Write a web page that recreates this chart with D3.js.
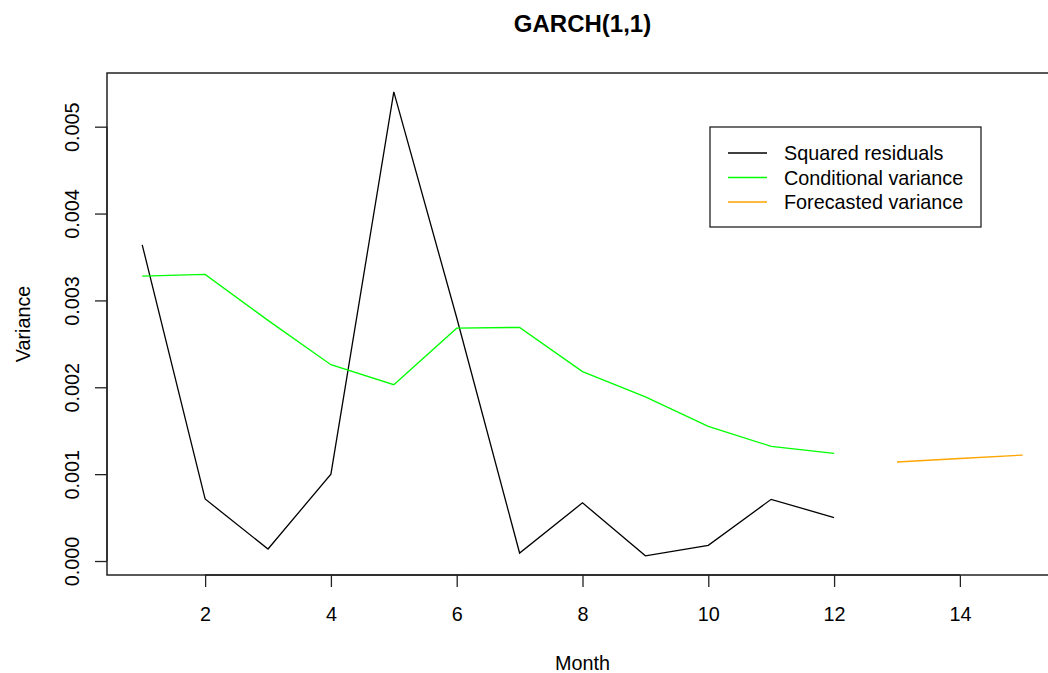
<!DOCTYPE html>
<html lang="en">
<head>
    <meta charset="UTF-8">
    <title>GARCH(1,1)</title>
    <style>
        body { margin: 0; padding: 0; background: #fff; }
        svg { display: block; }
        text { font-family: "Liberation Sans", Arial, sans-serif; fill: #000; }
    </style>
</head>
<body>
    <script src="https://d3js.org/d3.v7.min.js"></script>
    <script>
        // data
        const months = [1, 2, 3, 4, 5, 6, 7, 8, 9, 10, 11, 12];
        const squaredResiduals = [0.00364, 0.000714, 0.000138, 0.001, 0.0054, 0.0028,
            0.000092, 0.00067, 0.00006, 0.00018, 0.00071, 0.0005];
        const conditionalVariance = [0.00328, 0.0033, 0.00277, 0.00226, 0.00203, 0.00268,
            0.00269, 0.00218, 0.00189, 0.00155, 0.00132, 0.00124];
        const forecastMonths = [13, 14, 15];
        const forecastedVariance = [0.00114, 0.00118, 0.00122];
        const xTicks = [2, 4, 6, 8, 10, 12, 14];
        const yTicks = [0, 0.001, 0.002, 0.003, 0.004, 0.005];
        const legendLabels = ['Squared residuals', 'Conditional variance', 'Forecasted variance'];
        const legendColors = ['#000000', '#00ff00', '#ffa500'];

        const width = 1048, height = 673;
        const plot = { left: 107, top: 73, bottom: 575, right: 1058 };

        const svg = d3.select('body').append('svg')
            .attr('width', width)
            .attr('height', height);

        // R style: axis range padded by 4%
        const x = d3.scaleLinear().domain([0.44, 15.56]).range([plot.left, plot.right]);
        const y = d3.scaleLinear().domain([-0.000161, 0.005618]).range([plot.bottom, plot.top]);

        const fs = 19.8;

        // lines
        const line = d3.line().x(d => x(d[0])).y(d => y(d[1]));
        const series = [
            { xs: months, ys: squaredResiduals, color: legendColors[0] },
            { xs: months, ys: conditionalVariance, color: legendColors[1] },
            { xs: forecastMonths, ys: forecastedVariance, color: legendColors[2] }
        ];
        svg.append('g').selectAll('path')
            .data(series)
            .join('path')
            .attr('d', s => line(s.xs.map((m, i) => [m, s.ys[i]])))
            .attr('fill', 'none')
            .attr('stroke', s => s.color)
            .attr('stroke-width', 1.3);

        // frame
        svg.append('rect')
            .attr('x', plot.left).attr('y', plot.top)
            .attr('width', plot.right - plot.left).attr('height', plot.bottom - plot.top)
            .attr('fill', 'none')
            .attr('stroke', '#222')
            .attr('stroke-width', 1.5);

        // x axis
        const xAxis = svg.append('g').attr('transform', `translate(0,${plot.bottom})`)
            .call(d3.axisBottom(x).tickValues(xTicks).tickSize(12).tickSizeOuter(0));
        xAxis.select('.domain')
            .attr('d', `M${x(2)},0H${x(14)}`)
            .attr('stroke', '#222').attr('stroke-width', 1.3);
        xAxis.selectAll('.tick line').attr('stroke', '#222').attr('stroke-width', 1.3);
        xAxis.selectAll('.tick text')
            .attr('y', 46).attr('dy', null)
            .style('font-size', fs + 'px');

        // y axis
        const yAxis = svg.append('g').attr('transform', `translate(${plot.left},0)`)
            .call(d3.axisLeft(y).tickValues(yTicks).tickSize(12).tickFormat(d3.format('.3f')).tickSizeOuter(0));
        yAxis.select('.domain')
            .attr('d', `M0,${y(0)}V${y(0.005)}`)
            .attr('stroke', '#222').attr('stroke-width', 1.3);
        yAxis.selectAll('.tick line').attr('stroke', '#222').attr('stroke-width', 1.3);
        yAxis.selectAll('.tick text')
            .attr('x', null).attr('dy', null)
            .attr('text-anchor', 'middle')
            .attr('transform', 'translate(-28,0) rotate(-90)')
            .style('font-size', fs + 'px');

        // title and axis labels
        svg.append('text')
            .attr('x', (plot.left + plot.right) / 2).attr('y', 32)
            .attr('text-anchor', 'middle')
            .style('font-size', '24px').style('font-weight', 'bold')
            .text('GARCH(1,1)');
        svg.append('text')
            .attr('x', (plot.left + plot.right) / 2).attr('y', 670)
            .attr('text-anchor', 'middle')
            .style('font-size', fs + 'px')
            .text('Month');
        svg.append('text')
            .attr('transform', `translate(30,${(plot.top + plot.bottom) / 2}) rotate(-90)`)
            .attr('text-anchor', 'middle')
            .style('font-size', fs + 'px')
            .text('Variance');

        // legend
        const legend = svg.append('g').attr('transform', 'translate(710,127)');
        legend.append('rect')
            .attr('width', 271).attr('height', 100)
            .attr('fill', '#fff').attr('stroke', '#222').attr('stroke-width', 1.3);
        const rows = legend.selectAll('g.row')
            .data(legendLabels)
            .join('g')
            .attr('class', 'row')
            .attr('transform', (d, i) => `translate(0,${26 + i * 24.5})`);
        rows.append('line')
            .attr('x1', 18).attr('x2', 57)
            .attr('stroke', (d, i) => legendColors[i])
            .attr('stroke-width', 1.3);
        rows.append('text')
            .attr('x', 74).attr('y', 7)
            .style('font-size', fs + 'px')
            .text(d => d);
    </script>
</body>
</html>
